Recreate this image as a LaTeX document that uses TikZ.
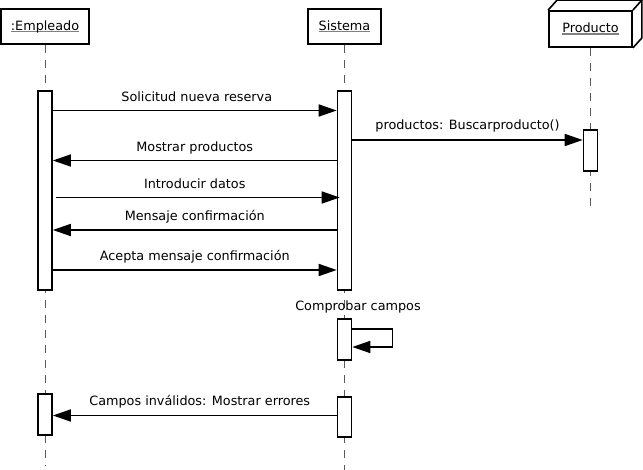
\documentclass[tikz,border=0pt]{standalone}
\usepackage{fontspec}
\setmainfont{DejaVu Sans}
\usetikzlibrary{arrows.meta, positioning, calc}
\newcommand{\headname}[1]{\setbox0\hbox{#1}\rlap{\color{gray}\rule[-2pt]{\wd0}{1.5pt}}\box0}
\tikzset{
    % Lifeline heads and bars
    header/.style={
        rectangle,
        draw=black,
        line width=1.8pt,
        fill=white,
        minimum height=35pt,
        inner sep=0pt,
        font=\fontsize{12.8}{14}\selectfont
    },
    lifeline/.style={draw=gray!70!black, line width=1pt, dash pattern=on 8pt off 7pt},
    activation/.style={rectangle, draw=black, fill=white, line width=1.6pt, minimum width=14pt, inner sep=0pt},
    % Message styles
    msg/.style={-{Triangle[length=18pt, width=12pt]}, line width=1.6pt},
    msgLabel/.style={font=\fontsize{12.8}{14}\selectfont, inner sep=2pt}
}

\begin{document}
\begin{tikzpicture}[x=1pt, y=-1pt]
    \useasboundingbox (0,0) rectangle (643,470);

    % --- Lifeline ends and message levels ---
    \coordinate (endE) at (45,465);
    \coordinate (endS) at (344.5,470);
    \coordinate (endP) at (590.5,210);
    \coordinate (m1) at (0,110.5);
    \coordinate (m2) at (0,140);
    \coordinate (m3) at (0,160.5);
    \coordinate (m4) at (0,197.5);
    \coordinate (m5) at (0,230);
    \coordinate (m6) at (0,270);
    \coordinate (m7) at (0,329);
    \coordinate (m8) at (0,415.5);

    % --- Heads ---
    \node (empleado) [header, minimum width=88pt] at (45,26.5) {\headname{:Empleado}};
    \node (sistema) [header, minimum width=73pt] at (344.5,26.5) {\headname{Sistema}};
    \node (producto) [header, minimum width=83pt, minimum height=36pt] at (590.5,29) {\headname{Producto}};
    \draw [line width=1.6pt, line join=round] (producto.north west) -- ++(9,-10) -| ($(producto.south east)+(9,-10)$) -- (producto.south east);
    \draw [line width=1.6pt] (producto.north east) -- ++(9,-10);

    % --- Lifelines ---
    \draw [lifeline] (empleado.south) -- (endE);
    \draw [lifeline] (sistema.south) -- (endS);
    \draw [lifeline] (producto.south) -- (endP);

    % --- Activation bars ---
    \node (actE1) [activation, minimum height=199pt] at (45,190.5) {};
    \node (actS1) [activation, minimum height=199pt] at (344.5,190.5) {};
    \node (actP1) [activation, minimum height=41pt] at (590.5,150.5) {};
    \node (actS2) [activation, minimum height=41pt] at (344.5,339.5) {};
    \node (actS3) [activation, minimum height=40pt] at (344.5,417) {};
    \node (actE2) [activation, minimum height=41pt] at (45,414.5) {};

    % --- Messages ---
    \draw [msg] (actE1.east |- m1) -- (actS1.west |- m1)
        node [msgLabel, midway, above=6pt, xshift=2pt] {Solicitud nueva reserva};
    \draw [msg] (actS1.east |- m2) -- (actP1.west |- m2)
        node [msgLabel, midway, above=5pt] {productos: Buscarproducto()};
    \draw [msg] (actS1.west |- m3) -- (actE1.east |- m3)
        node [msgLabel, midway, above=4pt] {Mostrar productos};
    \draw [msg, shorten <=3pt, shorten >=-3pt] (actE1.east |- m4) -- (actS1.west |- m4)
        node [msgLabel, midway, above=6pt] {Introducir datos};
    \draw [msg] (actS1.west |- m5) -- (actE1.east |- m5)
        node [msgLabel, midway, above=4pt] {Mensaje confirmación};
    \draw [msg] (actE1.east |- m6) -- (actS1.west |- m6)
        node [msgLabel, midway, above=4pt] {Acepta mensaje confirmación};

    % Self call
    \draw [msg] (actS2.east |- m7) -- ++(40,0) -- ++(0,18) -- ($(actS2.east |- m7)+(0,18)$);
    \node [msgLabel, anchor=base] at ($(actS2.north)+(13.5,-7.5)$) {Comprobar campos};

    \draw [msg] (actS3.west |- m8) -- (actE2.east |- m8)
        node [msgLabel, midway, above=5pt, xshift=5pt] {Campos inválidos: Mostrar errores};

\end{tikzpicture}
\end{document}
